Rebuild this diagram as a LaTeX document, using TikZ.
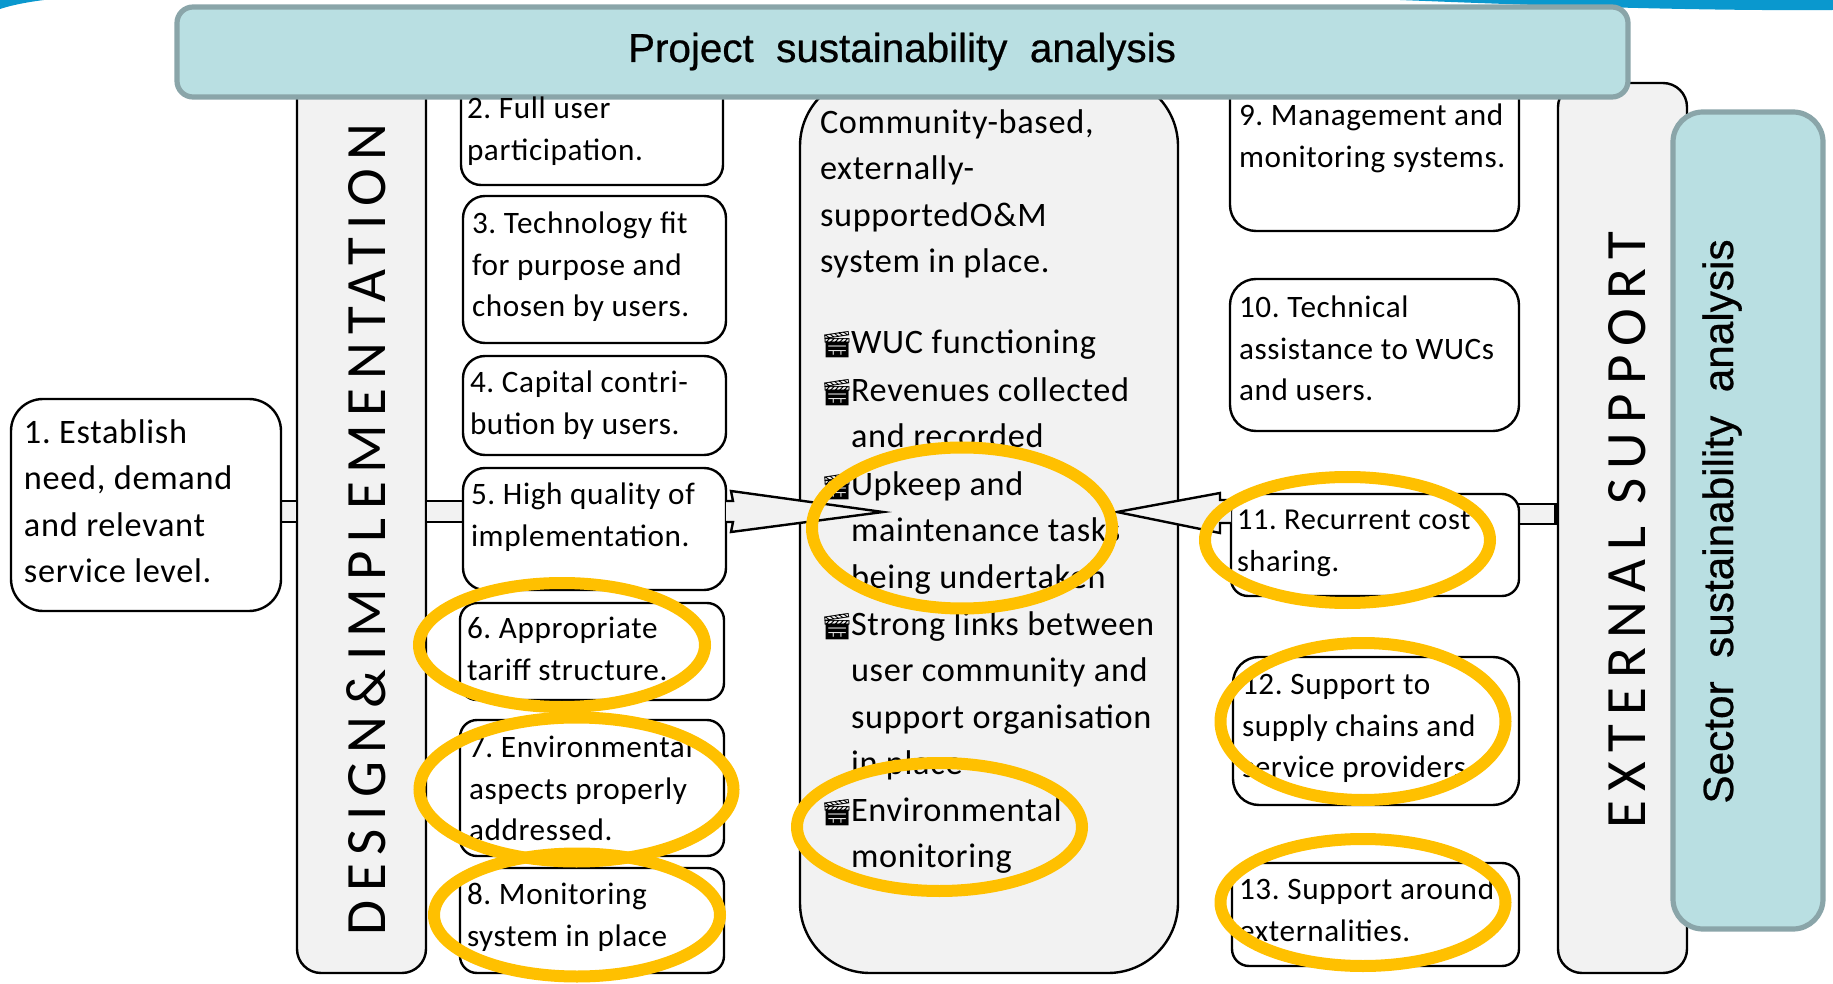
\documentclass[tikz,border=0pt]{standalone}
\usepackage{fontspec}
\setmainfont[LetterSpace=2]{Carlito}
\newfontfamily\arialf[FakeBold=0.6]{Liberation Sans}
\newfontfamily\emo{Noto Emoji}
\newfontfamily\spaced[LetterSpace=15]{Carlito}
\newfontfamily\spacedwide[LetterSpace=16]{Carlito}
\definecolor{teal}{HTML}{B9DFE2}
\definecolor{tealline}{HTML}{8AA5A9}
\definecolor{panel}{HTML}{F2F2F2}
\definecolor{gold}{HTML}{FFC000}
\definecolor{swoosh}{HTML}{0A98CE}
\newcommand{\clapper}{\llap{{\emo\fontsize{13}{13}\selectfont 🎬}\kern-1.2pt}}
\tikzset{
  x=0.5pt,y=-0.5pt,
  boxbase/.style={draw=black,line width=1.2pt,inner sep=0pt,outer sep=0pt},
  whitebox/.style={boxbase,fill=white,rounded corners=#1},
  whitebox/.default=11pt,
  graybox/.style={boxbase,fill=panel,rounded corners=12pt},
  headbox/.style={draw=tealline,fill=teal,line width=2.6pt,rounded corners=8pt},
  side/.style={anchor=north west,inner sep=0pt,outer sep=0pt,align=left,font=\frenchspacing\fontsize{15.6}{20.9}\selectfont},
  main/.style={anchor=north west,inner sep=0pt,outer sep=0pt,align=left,font=\frenchspacing\fontsize{17.15}{23.2}\selectfont},
  spine/.style={anchor=base west,inner sep=0pt,outer sep=0pt,rotate=90,font=\spaced\fontsize{28.5}{30}\selectfont},
  ring/.style={draw=gold,line width=6pt},
  link/.style={draw=black,fill=panel,line width=1.2pt},
}
\begin{document}
\begin{tikzpicture}
\useasboundingbox (0,0) rectangle (1833,984);
% decorative swooshes
\fill[swoosh] (1400,0) .. controls (1550,6) and (1700,11) .. (1833,10) -- (1833,0) -- cycle;
\fill[swoosh] (0,0) -- (44,0) .. controls (28,2) and (12,5) .. (0,9) -- cycle;
% grey spines
\draw[graybox] (297,60) rectangle (426,973);
\draw[graybox] (1558,83) rectangle (1687,973);
\draw[boxbase,fill=panel,rounded corners=35pt] (800,76) rectangle (1178,973);
% connectors behind boxes
\coordinate (c1a) at (275,501); \coordinate (c1b) at (297,522);
\coordinate (c2a) at (426,501); \coordinate (c2b) at (468,522);
\coordinate (c3a) at (1515,504); \coordinate (c3b) at (1555.5,524);
\draw[link] (c1a) rectangle (c1b);
\draw[link] (c2a) rectangle (c2b);
\draw[link] (c3a) rectangle (c3b);
% boxes
\draw[whitebox=16pt] (11,399) rectangle (281,611);
\draw[whitebox=10pt] (461,70) rectangle (723,185);
\draw[whitebox] (463,196) rectangle (726,343);
\draw[whitebox] (463,356) rectangle (726,455);
\draw[whitebox] (463,468) rectangle (726,590);
\draw[whitebox=8.5pt] (460,603) rectangle (724,700);
\draw[whitebox=8.5pt] (460,720) rectangle (724,856);
\draw[whitebox=8.5pt] (460,868) rectangle (724,973);
\draw[whitebox=13pt] (1230,70) rectangle (1519,231);
\draw[whitebox=13pt] (1230,279) rectangle (1519,431);
\draw[whitebox=8.5pt] (1231,494) rectangle (1519,596);
\draw[whitebox=13pt] (1233,657) rectangle (1519,805);
\draw[whitebox=8.5pt] (1232,863) rectangle (1519,966);
% arrows
\draw[link,line join=miter] (726,501) -- (733,501) -- (731,491) -- (883,512) -- (731,532) -- (733,522) -- (726,522);
\draw[link,line join=miter] (1231,500) -- (1220,500) -- (1220,493) -- (1117,512) -- (1220,533) -- (1220,523) -- (1231,523);
% title
\draw[headbox] (177,7) rectangle (1628,97);
\node[anchor=base,inner sep=0pt] (title) at (902,62) {\arialf\fontsize{20.2}{22}\selectfont Project\ \ sustainability\ \ analysis};
\draw[headbox,rounded corners=15pt] (1673,112) rectangle (1823,929);
% rotated labels
\node[spine] (design) at (385,935) {DESIGN\&IMPLEMENTATION};
\node[spine,font=\spacedwide\fontsize{28.5}{30}\selectfont] (external) at (1645.6,828) {EXTERNAL SUPPORT};
\node[anchor=base west,rotate=90,inner sep=0pt] (sector) at (1733,804) {\arialf\fontsize{21.15}{22}\selectfont Sector\ \ sustainability\ \ analysis};
% side texts (north = first baseline - 0.7*pitch)
\node[main] (t1) at (24,411) {\strut 1. Establish\\need, demand\\and relevant\\service level.};
\node[side] (t2) at (467,89) {\strut 2. Full user\\participation.};
\node[side] (t3) at (472,204) {\strut 3. Technology fit\\for purpose and\\chosen by users.};
\node[side] (t4) at (470,363) {\strut 4. Capital contri-\\bution by users.};
\node[side] (t5) at (471,475) {\strut 5. High quality of\\implementation.};
\node[side] (t6) at (467,609) {\strut 6. Appropriate\\tariff structure.};
\node[side] (t7) at (469,728) {\strut 7. Environmental\\aspects properly\\addressed.};
\node[side] (t8) at (467,875) {\strut 8. Monitoring\\system in place};
\node[side] (t9) at (1239,96) {\strut 9. Management and\\monitoring systems.};
\node[side] (t10) at (1239,288) {\strut 10. Technical\\assistance to WUCs\\and users.};
\node[side,font=\frenchspacing\fontsize{15.2}{20.9}\selectfont] (t11) at (1237,500) {\strut 11. Recurrent cost\\sharing.};
\node[side] (t12) at (1242,665) {\strut 12. Support to\\supply chains and\\service providers};
\node[side] (t13) at (1239,870) {\strut 13. Support around\\externalities.};
% centre text
\node[main] (c0) at (820,101) {\strut Community-based,\\externally-\\supportedO\&M\\system in place.};
\node[main] (c1) at (851,321) {\strut\clapper WUC functioning};
\node[main] (c2) at (851,369) {\strut\clapper Revenues collected\\and recorded};
\node[main] (c3) at (851,463) {\strut\clapper Upkeep and\\maintenance tasks\\being undertaken};
\node[main] (c4) at (851,603) {\strut\clapper Strong links between\\user community and\\support organisation\\in place};
\node[main] (c5) at (851,789) {\strut\clapper Environmental\\monitoring};
% highlight rings
\draw[ring] (562,645) ellipse (143 and 62);
\draw[ring] (576.5,789.5) ellipse (157 and 72);
\draw[ring] (577,915) ellipse (143 and 61.5);
\draw[ring] (962,528) ellipse (150 and 80.5);
\draw[ring] (939.5,827) ellipse (142.5 and 64);
\draw[ring] (1347.5,540) ellipse (142.5 and 63);
\draw[ring] (1363,721.5) ellipse (142.5 and 78.5);
\draw[ring] (1363,902.5) ellipse (142.5 and 63.5);
\end{tikzpicture}
\end{document}
